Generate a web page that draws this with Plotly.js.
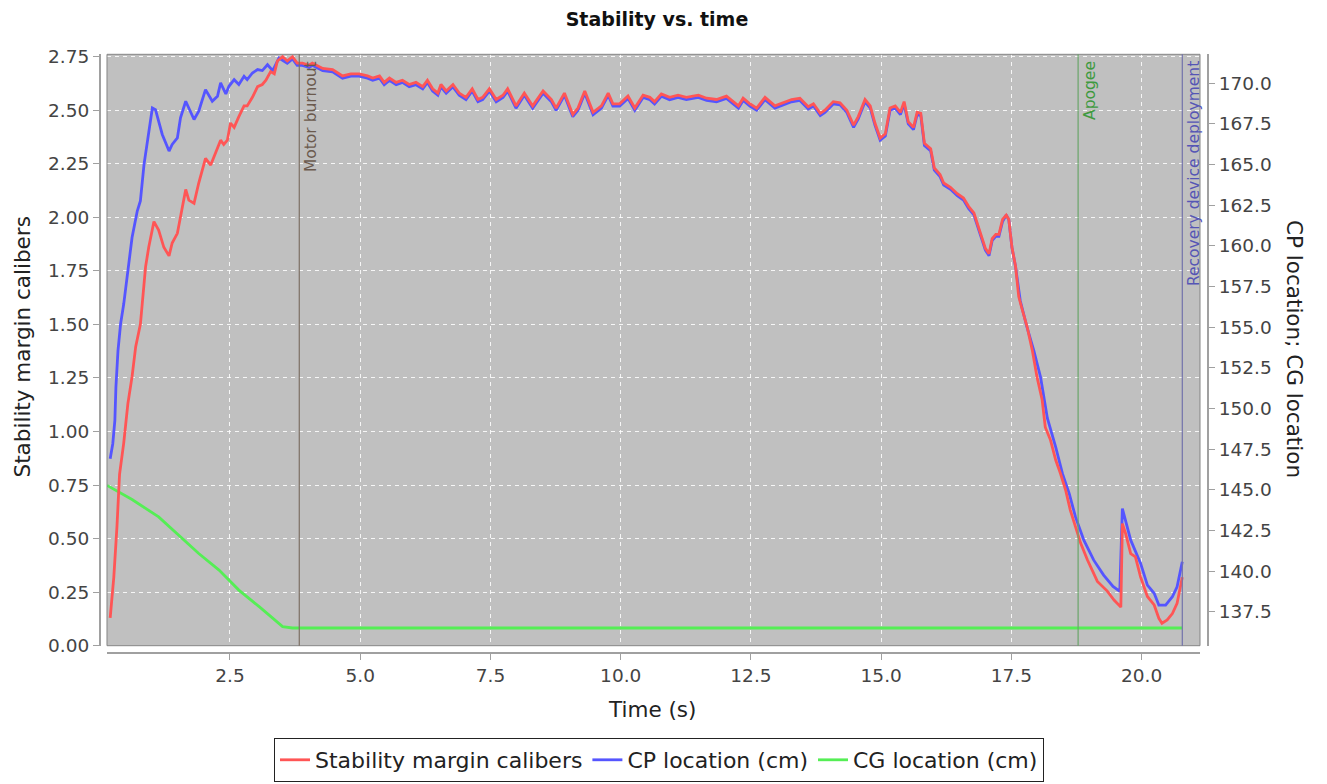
<!DOCTYPE html>
<html>
<head>
<meta charset="utf-8">
<script src="https://cdn.plot.ly/plotly-3.0.1.min.js"></script>
<style>html,body{margin:0;padding:0;background:#fff;}#chart{width:1327px;height:784px;}</style>
</head>
<body>
<div id="chart"></div>
<script>
// Stability margin (calibers) vs time
const timeStability = [0.20,0.27,0.33,0.38,0.46,0.54,0.62,0.69,0.78,0.88,0.94,1.04,1.13,1.23,1.33,1.39,1.49,1.58,1.65,1.71,1.81,1.90,2.03,2.13,2.22,2.32,2.38,2.45,2.51,2.58,2.67,2.77,2.83,2.93,3.03,3.12,3.19,3.28,3.35,3.41,3.51,3.60,3.70,3.79,3.89,4.02,4.08,4.28,4.47,4.66,4.82,4.98,5.14,5.24,5.37,5.46,5.56,5.69,5.81,5.94,6.07,6.20,6.29,6.39,6.49,6.55,6.65,6.78,6.90,7.03,7.15,7.26,7.35,7.48,7.61,7.74,7.83,7.99,8.15,8.31,8.51,8.67,8.76,8.92,9.08,9.18,9.31,9.47,9.63,9.76,9.85,9.98,10.14,10.27,10.43,10.56,10.65,10.78,10.94,11.10,11.26,11.49,11.65,11.84,12.03,12.26,12.35,12.48,12.61,12.77,12.96,13.12,13.28,13.44,13.60,13.70,13.83,13.92,14.08,14.21,14.34,14.47,14.56,14.69,14.79,14.88,14.98,15.08,15.17,15.27,15.37,15.44,15.52,15.62,15.69,15.76,15.83,15.95,16.02,16.13,16.20,16.33,16.46,16.58,16.68,16.78,16.90,17.00,17.07,17.13,17.20,17.26,17.33,17.40,17.45,17.51,17.58,17.64,17.71,17.80,17.90,17.99,18.09,18.15,18.25,18.35,18.44,18.54,18.63,18.73,18.83,18.96,19.15,19.34,19.47,19.60,19.63,19.69,19.79,19.88,19.98,20.11,20.24,20.33,20.39,20.49,20.59,20.68,20.78];
const stabilityCal = [0.13,0.32,0.555,0.80,0.946,1.13,1.256,1.396,1.50,1.77,1.86,1.98,1.94,1.86,1.82,1.88,1.925,2.05,2.13,2.08,2.065,2.16,2.275,2.244,2.30,2.36,2.34,2.36,2.44,2.42,2.47,2.52,2.52,2.56,2.61,2.62,2.64,2.68,2.67,2.73,2.75,2.73,2.75,2.72,2.72,2.71,2.72,2.695,2.69,2.66,2.67,2.67,2.66,2.65,2.66,2.63,2.65,2.63,2.64,2.62,2.63,2.61,2.64,2.60,2.58,2.62,2.59,2.62,2.58,2.56,2.60,2.55,2.56,2.60,2.55,2.57,2.60,2.52,2.58,2.52,2.59,2.55,2.51,2.58,2.48,2.51,2.59,2.49,2.52,2.58,2.53,2.53,2.566,2.51,2.57,2.56,2.54,2.576,2.56,2.57,2.56,2.57,2.556,2.55,2.566,2.52,2.556,2.53,2.51,2.56,2.52,2.535,2.55,2.556,2.516,2.53,2.485,2.50,2.54,2.535,2.50,2.43,2.47,2.55,2.52,2.44,2.37,2.39,2.51,2.52,2.49,2.54,2.446,2.42,2.49,2.485,2.345,2.32,2.23,2.20,2.16,2.14,2.11,2.09,2.05,2.02,1.925,1.855,1.83,1.90,1.92,1.92,1.99,2.01,1.99,1.86,1.77,1.63,1.567,1.49,1.38,1.256,1.147,1.02,0.96,0.867,0.805,0.727,0.633,0.556,0.478,0.40,0.30,0.255,0.213,0.18,0.57,0.525,0.43,0.415,0.32,0.23,0.19,0.128,0.105,0.12,0.15,0.198,0.32];

// CP location (cm)
const timeCP = [0.20,0.25,0.29,0.31,0.35,0.40,0.46,0.56,0.62,0.72,0.78,0.85,0.91,1.01,1.07,1.13,1.20,1.33,1.39,1.49,1.55,1.65,1.74,1.81,1.90,2.03,2.16,2.26,2.32,2.42,2.48,2.58,2.67,2.77,2.83,2.93,3.03,3.12,3.22,3.32,3.44,3.54,3.60,3.70,3.79,3.89,4.02,4.08,4.28,4.47,4.66,4.82,4.98,5.14,5.24,5.37,5.46,5.56,5.69,5.81,5.94,6.07,6.20,6.29,6.39,6.49,6.55,6.65,6.78,6.90,7.03,7.15,7.26,7.35,7.48,7.61,7.74,7.83,7.99,8.15,8.31,8.51,8.67,8.76,8.92,9.08,9.18,9.31,9.47,9.63,9.76,9.85,9.98,10.14,10.27,10.43,10.56,10.65,10.78,10.94,11.10,11.26,11.49,11.65,11.84,12.03,12.26,12.35,12.48,12.61,12.77,12.96,13.12,13.28,13.44,13.60,13.70,13.83,13.92,14.08,14.21,14.34,14.47,14.56,14.69,14.79,14.88,14.98,15.08,15.17,15.27,15.37,15.44,15.52,15.62,15.69,15.76,15.83,15.95,16.02,16.13,16.20,16.33,16.46,16.58,16.68,16.78,16.90,17.00,17.07,17.13,17.20,17.26,17.33,17.40,17.45,17.51,17.58,17.67,17.80,17.93,18.06,18.19,18.35,18.48,18.61,18.73,18.89,19.08,19.27,19.45,19.58,19.63,19.79,19.98,20.11,20.24,20.33,20.46,20.59,20.68,20.78];
const cpLocation = [146.91,147.83,149.26,151.30,153.56,155.20,156.42,158.87,160.51,162.14,162.76,165.01,166.44,168.48,168.38,167.67,166.85,165.83,166.24,166.64,167.87,168.89,168.28,167.77,168.28,169.61,168.89,169.20,170.02,169.34,169.81,170.22,169.92,170.43,170.22,170.63,170.84,170.78,171.14,170.78,171.55,171.35,171.23,171.49,171.10,171.10,170.97,171.10,170.77,170.70,170.31,170.44,170.44,170.31,170.18,170.31,169.91,170.18,169.91,170.05,169.78,169.91,169.65,170.05,169.52,169.26,169.78,169.39,169.78,169.26,168.99,169.52,168.86,168.99,169.52,168.86,169.13,169.52,168.47,169.26,168.47,169.39,168.86,168.34,169.26,167.94,168.34,169.39,168.07,168.47,169.26,168.60,168.60,169.07,168.34,169.13,168.99,168.73,169.20,168.99,169.13,168.99,169.13,168.94,168.86,169.07,168.47,168.94,168.60,168.34,168.99,168.47,168.67,168.86,168.94,168.42,168.60,168.01,168.21,168.73,168.67,168.21,167.29,167.81,168.86,168.47,167.42,166.50,166.76,168.34,168.47,168.07,168.73,167.50,167.15,168.07,168.01,166.17,165.84,164.66,164.26,163.74,163.48,163.08,162.82,162.29,161.90,160.65,159.73,159.40,160.32,160.58,160.58,161.50,161.90,161.60,159.90,158.70,156.62,154.98,153.56,151.92,149.40,147.62,145.99,144.76,143.33,141.90,140.67,139.75,139.05,138.75,143.84,141.90,140.47,139.14,138.63,137.91,137.91,138.42,139.03,140.57];

// CG location (cm)
const timeCG = [0.14,0.35,0.62,1.13,1.52,1.90,2.29,2.67,3.06,3.31,3.51,3.70,20.78];
const cgLocation = [145.27,144.90,144.40,143.33,142.21,141.08,140.06,138.83,137.81,137.10,136.58,136.50,136.50];

// Flight events
const eventNames = ["Motor burnout", "Apogee", "Recovery device deployment"];
const eventTimes = [3.83, 18.78, 20.78];
const eventLineColors = ["#7d7065", "#6aa56a", "#7272aa"];
const eventTextColors = ["#6b5a4e", "#3f9a3f", "#5555b5"];

const FONT = "DejaVu Sans, Verdana, sans-serif";
const xDom = [0.08063, 0.90430];
const yDom = [0.1764, 0.93074];

const traces = [
  {x: timeStability, y: stabilityCal, name: "Stability margin calibers", type: "scatter", mode: "lines",
   yaxis: "y2", line: {color: "rgb(255,85,85)", width: 2.8}},
  {x: timeCP, y: cpLocation, name: "CP location (cm)", type: "scatter", mode: "lines",
   yaxis: "y", line: {color: "rgb(85,85,255)", width: 2.8}},
  {x: timeCG, y: cgLocation, name: "CG location (cm)", type: "scatter", mode: "lines",
   yaxis: "y", line: {color: "rgb(85,238,85)", width: 2.8}}
];

const shapes = [{type: "rect", xref: "paper", yref: "paper", x0: xDom[0], x1: xDom[1], y0: yDom[0], y1: yDom[1],
  line: {color: "#858585", width: 1}, layer: "above"}];
const annotations = [];
eventTimes.forEach((t, i) => {
  shapes.push({type: "line", xref: "x", yref: "paper", x0: t, x1: t, y0: yDom[0], y1: yDom[1],
    line: {color: eventLineColors[i], width: 1.2}, layer: "above"});
  annotations.push({x: t, xref: "x", y: yDom[1], yref: "paper", text: eventNames[i], showarrow: false,
    textangle: -90, xanchor: "left", yanchor: "top", xshift: 1, yshift: -5,
    font: {family: FONT, size: 15.5, color: eventTextColors[i]}});
});
annotations.push({x: 22/1327, y: 0.5568, xref: "paper", yref: "paper", text: "Stability margin calibers",
  textangle: -90, showarrow: false, xanchor: "center", yanchor: "middle", font: {family: FONT, size: 21.5, color: "#222"}});
annotations.push({x: 1295/1327, y: 0.5548, xref: "paper", yref: "paper", text: "CP location; CG location",
  textangle: 90, showarrow: false, xanchor: "center", yanchor: "middle", font: {family: FONT, size: 21.5, color: "#222"}});
annotations.push({x: 652/1327, y: 1 - 709/784, xref: "paper", yref: "paper", text: "Time (s)",
  showarrow: false, xanchor: "center", yanchor: "middle", font: {family: FONT, size: 21.5, color: "#222"}});

const tickFont = {family: FONT, size: 18.5, color: "#444"};
const layout = {
  width: 1327, height: 784,
  margin: {l: 0, r: 0, t: 0, b: 0, pad: 0},
  paper_bgcolor: "#ffffff", plot_bgcolor: "#c0c0c0",
  title: {text: "<b>Stability vs. time</b>", x: 657/1327, xanchor: "center", y: 1 - 19/784, yanchor: "middle",
    xref: "paper", yref: "container", font: {family: FONT, size: 19, color: "#111"}},
  showlegend: true,
  legend: {orientation: "h", x: 0.4966, xanchor: "center", y: 1 - 738/784, yanchor: "top",
    bordercolor: "#222", borderwidth: 1, bgcolor: "#fff", font: {family: FONT, size: 22, color: "#222"},
    traceorder: "normal"},
  xaxis: {domain: xDom, anchor: "free", position: 0.16671, range: [0.139, 21.12], tick0: 0, dtick: 2.5,
    tickformat: ".1f", showline: true, linecolor: "#a0a0a0", linewidth: 2, ticks: "outside", ticklen: 6,
    tickcolor: "#a0a0a0", tickwidth: 1, showgrid: true, gridcolor: "rgba(255,255,255,0.85)", griddash: "4px,4px",
    gridwidth: 1, zeroline: false, tickfont: tickFont},
  yaxis: {domain: yDom, anchor: "free", position: 0.91033, side: "right", range: [135.41, 171.78], tick0: 0, dtick: 2.5,
    tickformat: ".1f", showline: true, linecolor: "#a0a0a0", linewidth: 2, ticks: "outside", ticklen: 6,
    tickcolor: "#a0a0a0", showgrid: false, zeroline: false, tickfont: tickFont},
  yaxis2: {domain: yDom, overlaying: "y", anchor: "free", position: 0.07536, side: "left", range: [0, 2.761], tick0: 0, dtick: 0.25,
    tickformat: ".2f", showline: true, linecolor: "#a0a0a0", linewidth: 2, ticks: "outside", ticklen: 6,
    tickcolor: "#a0a0a0", showgrid: true, gridcolor: "rgba(255,255,255,0.85)", griddash: "4px,4px", gridwidth: 1,
    zeroline: false, tickfont: tickFont},
  shapes: shapes,
  annotations: annotations
};

Plotly.newPlot("chart", traces, layout, {displayModeBar: false, staticPlot: true});
</script>
</body>
</html>
